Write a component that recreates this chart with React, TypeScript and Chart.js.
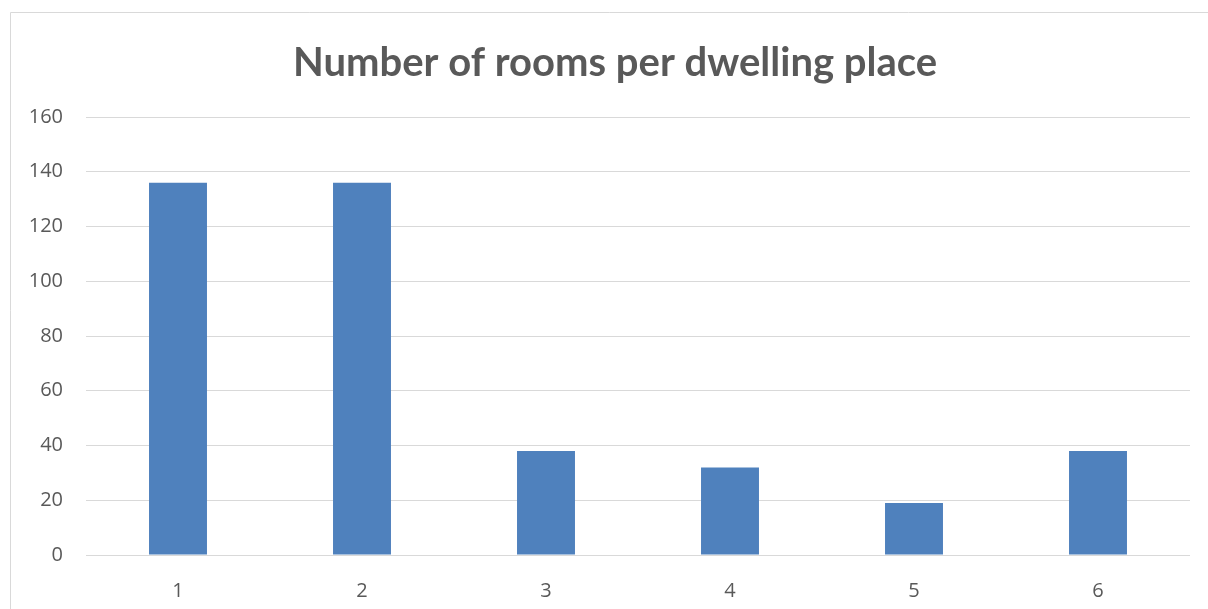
import React, { useEffect, useRef } from "react";
import { Chart, registerables } from "chart.js";

Chart.register(...registerables);

const categories = ["1", "2", "3", "4", "5", "6"];
const dwellings = [136, 136, 38, 32, 19, 38];
const yTicks = [0, 20, 40, 60, 80, 100, 120, 140, 160];
const chartTitle = "Number of rooms per dwelling place";

const TEXT = "#595959";
const GRID = "#d9d9d9";
const BAR = "#4f81bd";

// Thin frame along the left and top edges of the panel, plus the centred heading
const panelPlugin = {
  id: "panel",
  beforeDraw(chart: any) {
    const ctx = chart.ctx;
    ctx.save();
    ctx.strokeStyle = GRID;
    ctx.lineWidth = 1;
    ctx.beginPath();
    ctx.moveTo(10.5, chart.height);
    ctx.lineTo(10.5, 12.5);
    ctx.lineTo(chart.width, 12.5);
    ctx.stroke();

    ctx.fillStyle = TEXT;
    ctx.font = "bold 40px Lato";
    ctx.textAlign = "center";
    ctx.textBaseline = "middle";
    ctx.fillText(chartTitle, 615, 63);
    ctx.restore();
  },
};

export default function App() {
  const ref = useRef<HTMLCanvasElement | null>(null);

  useEffect(() => {
    if (!ref.current) return;
    const chart = new Chart(ref.current, {
      type: "bar",
      data: {
        labels: categories,
        datasets: [
          {
            label: "Dwellings",
            data: dwellings,
            backgroundColor: BAR,
            borderWidth: 0,
            barPercentage: 0.315,
            categoryPercentage: 1,
          },
        ],
      },
      options: {
        animation: false,
        responsive: false,
        layout: { padding: { left: 0, right: 18, top: 117, bottom: 0 } },
        plugins: {
          legend: { display: false },
          tooltip: { enabled: false },
          title: { display: false },
        },
        scales: {
          x: {
            grid: { display: false },
            border: { display: false },
            ticks: {
              color: TEXT,
              font: { family: "Open Sans", size: 20 },
              padding: 16,
            },
            afterFit(axis: any) {
              axis.height = 54;
            },
          },
          y: {
            min: 0,
            max: 160,
            afterBuildTicks(axis: any) {
              axis.ticks = yTicks.map((v) => ({ value: v }));
            },
            grid: { color: GRID, lineWidth: 1, drawTicks: false },
            border: { display: false },
            ticks: {
              color: TEXT,
              font: { family: "Open Sans", size: 20 },
              padding: 23,
            },
            afterFit(axis: any) {
              axis.width = 86;
            },
          },
        },
      },
      plugins: [panelPlugin],
    });
    return () => chart.destroy();
  }, []);

  return (
    <div style={{ position: "absolute", left: 0, top: 0, width: 1208, height: 609, background: "#fff" }}>
      <canvas ref={ref} width={1208} height={609} style={{ display: "block" }} />
    </div>
  );
}
